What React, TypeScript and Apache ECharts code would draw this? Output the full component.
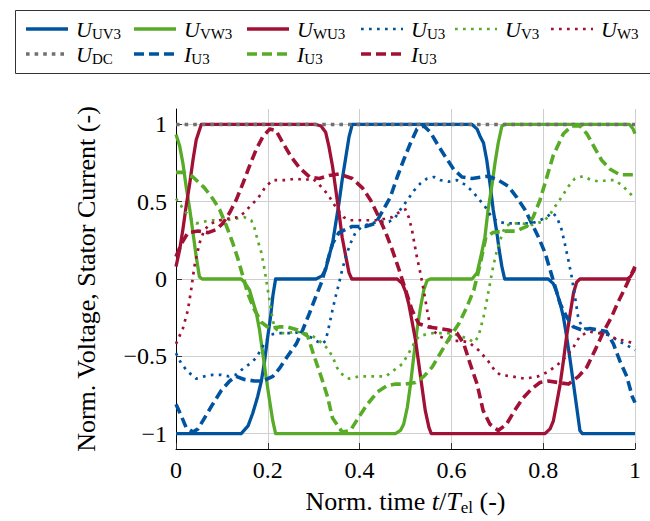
import React, { useEffect, useRef } from "react";
import * as echarts from "echarts";

type Pt = [number, number];

// ---- axis ticks ----
const xTickValues = [0, 0.2, 0.4, 0.6, 0.8, 1];
const yTickValues = [-1, -0.5, 0, 0.5, 1];

// ---- axis titles ----
const xTitle = "{r|Norm. time }{i|t}{r|/}{i|T}{s|el}{r| (-)}";
const yTitle = "Norm. Voltage, Stator Current (-)";

// ---- line voltages (solid) ----
const uUV3: Pt[] = [
  [0, -1], [0.142, -1], [0.157, -0.95], [0.167, -0.87], [0.178, -0.76], [0.186, -0.66],
  [0.193, -0.53], [0.2, -0.37], [0.206, -0.245], [0.211, -0.11], [0.217, 0],
  [0.305, 0], [0.318, 0.02], [0.326, 0.06], [0.333, 0.145], [0.341, 0.23], [0.348, 0.36],
  [0.355, 0.49], [0.362, 0.64], [0.37, 0.79], [0.377, 0.92], [0.384, 1],
  [0.645, 1], [0.656, 0.97], [0.663, 0.92], [0.67, 0.88], [0.677, 0.77], [0.684, 0.62],
  [0.691, 0.45], [0.699, 0.3], [0.704, 0.19], [0.71, 0.08], [0.716, 0],
  [0.811, 0], [0.822, -0.03], [0.829, -0.08], [0.837, -0.16], [0.844, -0.245], [0.851, -0.37],
  [0.859, -0.53], [0.866, -0.68], [0.873, -0.83], [0.88, -0.98], [0.885, -1], [1, -1],
];
const uVW3: Pt[] = [
  [0, 0.935], [0.008, 0.86], [0.015, 0.75], [0.022, 0.6], [0.03, 0.45], [0.037, 0.3],
  [0.044, 0.145], [0.051, 0.015], [0.057, 0],
  [0.142, 0], [0.149, -0.02], [0.16, -0.07], [0.167, -0.14], [0.175, -0.22], [0.182, -0.33],
  [0.189, -0.48], [0.196, -0.63], [0.204, -0.79], [0.211, -0.92], [0.217, -1],
  [0.478, -1], [0.489, -0.98], [0.496, -0.94], [0.504, -0.83], [0.511, -0.68], [0.518, -0.5],
  [0.525, -0.33], [0.533, -0.18], [0.54, -0.07], [0.547, -0.01], [0.554, 0],
  [0.645, 0], [0.656, 0.04], [0.666, 0.17], [0.673, 0.27], [0.68, 0.45], [0.688, 0.6],
  [0.695, 0.75], [0.702, 0.88], [0.71, 0.99], [0.716, 1],
  [0.988, 1], [0.996, 0.97], [1, 0.94],
];
const uWU3: Pt[] = [
  [0, 0.08], [0.008, 0.19], [0.015, 0.32], [0.022, 0.47], [0.03, 0.62], [0.037, 0.77],
  [0.044, 0.9], [0.055, 1],
  [0.305, 1], [0.316, 0.99], [0.326, 0.95], [0.333, 0.86], [0.341, 0.73], [0.348, 0.58],
  [0.355, 0.43], [0.362, 0.27], [0.37, 0.145], [0.377, 0.04], [0.383, 0],
  [0.482, 0], [0.493, -0.03], [0.5, -0.08], [0.507, -0.16], [0.514, -0.27], [0.522, -0.4],
  [0.529, -0.55], [0.536, -0.7], [0.543, -0.85], [0.551, -0.96], [0.556, -1],
  [0.804, -1], [0.815, -0.97], [0.822, -0.92], [0.829, -0.81], [0.837, -0.68], [0.844, -0.53],
  [0.851, -0.37], [0.859, -0.22], [0.866, -0.09], [0.873, -0.02], [0.88, 0],
  [0.983, 0], [0.99, 0.015], [0.997, 0.05], [1, 0.07],
];

// ---- phase voltages (dotted) ----
const uU3: Pt[] = [
  [0, -0.48], [0.012, -0.55], [0.026, -0.6], [0.044, -0.645], [0.062, -0.63], [0.08, -0.62],
  [0.098, -0.62], [0.115, -0.63], [0.13, -0.62], [0.146, -0.58], [0.16, -0.55], [0.175, -0.51],
  [0.186, -0.45], [0.197, -0.4], [0.207, -0.36], [0.222, -0.35], [0.24, -0.35], [0.258, -0.35],
  [0.272, -0.34], [0.29, -0.37], [0.305, -0.4], [0.318, -0.42], [0.326, -0.4], [0.333, -0.31],
  [0.341, -0.2], [0.348, -0.11], [0.355, -0.03], [0.362, 0.06], [0.37, 0.145], [0.38, 0.23],
  [0.391, 0.3], [0.406, 0.34], [0.424, 0.36], [0.442, 0.37], [0.464, 0.37], [0.478, 0.4],
  [0.489, 0.45], [0.504, 0.51], [0.518, 0.57], [0.533, 0.62], [0.547, 0.65], [0.562, 0.66],
  [0.576, 0.64], [0.594, 0.63], [0.612, 0.64], [0.63, 0.61], [0.645, 0.57], [0.659, 0.52],
  [0.673, 0.47], [0.688, 0.4], [0.702, 0.37], [0.72, 0.36], [0.738, 0.36], [0.757, 0.36],
  [0.775, 0.36], [0.793, 0.38], [0.807, 0.4], [0.82, 0.43], [0.83, 0.4], [0.84, 0.32],
  [0.847, 0.23], [0.855, 0.12], [0.862, 0.015], [0.869, -0.11], [0.876, -0.245], [0.884, -0.31],
  [0.898, -0.33], [0.913, -0.33], [0.93, -0.35], [0.949, -0.37], [0.962, -0.4], [0.977, -0.42],
  [0.995, -0.45], [1, -0.46],
];
const uV3: Pt[] = [
  [0, 0.52], [0.012, 0.47], [0.022, 0.43], [0.033, 0.39], [0.044, 0.36], [0.06, 0.37],
  [0.073, 0.38], [0.09, 0.38], [0.109, 0.38], [0.13, 0.39], [0.149, 0.4], [0.164, 0.38],
  [0.171, 0.33], [0.178, 0.25], [0.186, 0.17], [0.193, 0.06], [0.2, -0.07], [0.207, -0.2],
  [0.214, -0.31], [0.225, -0.35], [0.243, -0.35], [0.262, -0.34], [0.28, -0.35], [0.298, -0.37],
  [0.312, -0.4], [0.327, -0.44], [0.341, -0.5], [0.35, -0.57], [0.359, -0.61], [0.377, -0.645],
  [0.399, -0.63], [0.42, -0.63], [0.438, -0.63], [0.457, -0.63], [0.475, -0.59], [0.493, -0.55],
  [0.507, -0.48], [0.518, -0.42], [0.529, -0.37], [0.543, -0.36], [0.56, -0.35], [0.58, -0.35],
  [0.6, -0.35], [0.62, -0.37], [0.638, -0.39], [0.65, -0.41], [0.659, -0.37], [0.67, -0.245],
  [0.677, -0.14], [0.684, -0.03], [0.691, 0.08], [0.698, 0.17], [0.706, 0.25], [0.717, 0.34],
  [0.731, 0.36], [0.753, 0.36], [0.775, 0.35], [0.797, 0.37], [0.811, 0.4], [0.826, 0.47],
  [0.84, 0.53], [0.855, 0.6], [0.869, 0.65], [0.887, 0.665], [0.905, 0.64], [0.923, 0.63],
  [0.941, 0.64], [0.956, 0.64], [0.974, 0.6], [0.992, 0.545], [1, 0.52],
];
const uW3: Pt[] = [
  [0, -0.42], [0.015, -0.32], [0.026, -0.2], [0.033, -0.07], [0.04, 0.08], [0.051, 0.23],
  [0.062, 0.32], [0.077, 0.36], [0.095, 0.38], [0.113, 0.39], [0.135, 0.4], [0.149, 0.43],
  [0.164, 0.48], [0.178, 0.52], [0.196, 0.6], [0.211, 0.64], [0.225, 0.64], [0.243, 0.64],
  [0.26, 0.65], [0.28, 0.64], [0.298, 0.65], [0.312, 0.61], [0.33, 0.55], [0.341, 0.5],
  [0.351, 0.45], [0.365, 0.4], [0.38, 0.38], [0.399, 0.38], [0.417, 0.38], [0.435, 0.38],
  [0.455, 0.39], [0.471, 0.4], [0.49, 0.44], [0.5, 0.45], [0.507, 0.4], [0.514, 0.32],
  [0.52, 0.22], [0.525, 0.14], [0.533, 0.03], [0.54, -0.08], [0.547, -0.2], [0.554, -0.31],
  [0.572, -0.37], [0.6, -0.4], [0.62, -0.4], [0.638, -0.41], [0.659, -0.46], [0.68, -0.53],
  [0.694, -0.59], [0.706, -0.62], [0.732, -0.63], [0.76, -0.645], [0.789, -0.63], [0.811, -0.6],
  [0.833, -0.55], [0.851, -0.5], [0.866, -0.44], [0.88, -0.37], [0.9, -0.34], [0.92, -0.35],
  [0.94, -0.36], [0.96, -0.39], [0.98, -0.4], [1, -0.42],
];
const uDC: Pt[] = [[0, 1], [1, 1]];

// ---- phase currents (dashed) ----
const iU3: Pt[] = [
  [0, -0.81], [0.012, -0.89], [0.022, -0.96], [0.037, -0.99], [0.048, -0.97], [0.062, -0.9],
  [0.08, -0.81], [0.099, -0.72], [0.117, -0.66], [0.131, -0.63], [0.149, -0.65], [0.171, -0.66],
  [0.189, -0.66], [0.211, -0.63], [0.225, -0.58], [0.243, -0.5], [0.262, -0.42], [0.276, -0.33],
  [0.291, -0.22], [0.305, -0.11], [0.316, -0.03], [0.327, 0.08], [0.341, 0.23], [0.355, 0.3],
  [0.384, 0.34], [0.413, 0.34], [0.435, 0.36], [0.452, 0.45], [0.467, 0.53], [0.482, 0.66],
  [0.496, 0.77], [0.511, 0.88], [0.525, 0.97], [0.54, 0.99], [0.554, 0.95], [0.572, 0.86],
  [0.587, 0.79], [0.605, 0.71], [0.623, 0.66], [0.645, 0.65], [0.666, 0.66], [0.68, 0.665],
  [0.702, 0.64], [0.724, 0.6], [0.742, 0.53], [0.76, 0.45], [0.775, 0.36], [0.789, 0.275],
  [0.804, 0.17], [0.815, 0.06], [0.826, -0.05], [0.837, -0.16], [0.851, -0.245], [0.866, -0.31],
  [0.884, -0.33], [0.902, -0.32], [0.92, -0.33], [0.938, -0.34], [0.953, -0.42], [0.967, -0.53],
  [0.982, -0.63], [0.994, -0.76], [1, -0.8],
];
const iV3: Pt[] = [
  [0, 0.69], [0.015, 0.69], [0.037, 0.66], [0.062, 0.59], [0.08, 0.52], [0.095, 0.45],
  [0.109, 0.35], [0.124, 0.23], [0.135, 0.13], [0.146, 0.015], [0.156, -0.09], [0.171, -0.2],
  [0.186, -0.28], [0.204, -0.32], [0.225, -0.31], [0.243, -0.31], [0.265, -0.33], [0.287, -0.37],
  [0.301, -0.5], [0.316, -0.63], [0.33, -0.76], [0.341, -0.9], [0.362, -0.99], [0.38, -0.98],
  [0.399, -0.89], [0.417, -0.81], [0.439, -0.73], [0.46, -0.69], [0.478, -0.68], [0.5, -0.68],
  [0.522, -0.67], [0.54, -0.63], [0.558, -0.57], [0.58, -0.46], [0.598, -0.37], [0.616, -0.29],
  [0.634, -0.18], [0.649, -0.07], [0.663, 0.1], [0.675, 0.27], [0.69, 0.3], [0.713, 0.31],
  [0.74, 0.31], [0.764, 0.34], [0.778, 0.4], [0.793, 0.51], [0.808, 0.66], [0.822, 0.8],
  [0.844, 0.94], [0.862, 0.99], [0.88, 0.99], [0.895, 0.94], [0.91, 0.86], [0.927, 0.77],
  [0.946, 0.71], [0.967, 0.675], [1, 0.675],
];
const iW3: Pt[] = [
  [0, 0.145], [0.012, 0.23], [0.026, 0.3], [0.048, 0.31], [0.07, 0.3], [0.088, 0.32],
  [0.102, 0.36], [0.117, 0.43], [0.131, 0.51], [0.146, 0.62], [0.16, 0.73], [0.175, 0.84],
  [0.189, 0.92], [0.204, 0.97], [0.218, 0.96], [0.233, 0.88], [0.251, 0.79], [0.269, 0.72],
  [0.291, 0.66], [0.312, 0.65], [0.334, 0.67], [0.355, 0.68], [0.384, 0.65], [0.406, 0.59],
  [0.424, 0.51], [0.442, 0.4], [0.457, 0.3], [0.471, 0.19], [0.486, 0.06], [0.5, -0.07],
  [0.514, -0.2], [0.529, -0.29], [0.55, -0.31], [0.572, -0.32], [0.594, -0.33], [0.612, -0.35],
  [0.627, -0.42], [0.641, -0.55], [0.656, -0.68], [0.669, -0.85], [0.684, -0.94], [0.702, -0.98],
  [0.72, -0.94], [0.738, -0.85], [0.756, -0.77], [0.775, -0.71], [0.793, -0.67], [0.811, -0.66],
  [0.833, -0.67], [0.855, -0.68], [0.877, -0.63], [0.895, -0.57], [0.913, -0.46], [0.93, -0.35],
  [0.949, -0.245], [0.963, -0.15], [0.978, -0.06], [0.992, 0.03], [1, 0.08],
];

// ---- legend labels ----
const legendMain = ["U", "U", "U", "U", "U", "U", "U", "I", "I", "I"];
const legendSub = ["UV3", "VW3", "WU3", "U3", "V3", "W3", "DC", "U3", "U3", "U3"];

// ---- styles ----
const BLUE = "#00549F";
const GREEN = "#57AB27";
const RED = "#A11035";
const GREY = "#707070";
const FONT = "Liberation Serif";

type Kind = "solid" | "dotted" | "dc" | "dashed";
const STYLE: Record<Kind, { width: number; type: any }> = {
  solid: { width: 3.3, type: "solid" },
  dotted: { width: 2.7, type: [2.7, 5.3] },
  dc: { width: 3.6, type: [3.6, 5] },
  dashed: { width: 3.6, type: [10, 5] },
};

const seriesDefs: { data: Pt[]; color: string; kind: Kind }[] = [
  { data: uUV3, color: BLUE, kind: "solid" },
  { data: uVW3, color: GREEN, kind: "solid" },
  { data: uWU3, color: RED, kind: "solid" },
  { data: uU3, color: BLUE, kind: "dotted" },
  { data: uV3, color: GREEN, kind: "dotted" },
  { data: uW3, color: RED, kind: "dotted" },
  { data: uDC, color: GREY, kind: "dc" },
  { data: iU3, color: BLUE, kind: "dashed" },
  { data: iV3, color: GREEN, kind: "dashed" },
  { data: iW3, color: RED, kind: "dashed" },
];

// legend layout
const COL_X = [26, 134, 247, 361, 455, 551];
const ROW_Y = [29, 54];
const LINE_LEN = 42;
const TEXT_OFF = 50;

const richLegend = {
  i: { fontFamily: FONT, fontStyle: "italic", fontSize: 22, lineHeight: 25, color: "#000" },
  s: { fontFamily: FONT, fontSize: 15, lineHeight: 15, verticalAlign: "bottom", color: "#000" },
};

function buildGraphics() {
  const children: any[] = [
    {
      type: "rect",
      shape: { x: 15.5, y: 10.5, width: 660, height: 63 },
      style: { fill: "#fff", stroke: "#333", lineWidth: 1 },
    },
  ];
  seriesDefs.forEach((s, idx) => {
    const row = idx < 6 ? 0 : 1;
    const col = idx < 6 ? idx : idx - 6;
    const x0 = COL_X[col];
    const y = ROW_Y[row];
    const st = STYLE[s.kind];
    children.push({
      type: "line",
      shape: { x1: x0, y1: y, x2: x0 + LINE_LEN, y2: y },
      style: {
        stroke: s.color,
        lineWidth: st.width,
        lineDash: Array.isArray(st.type) ? st.type : null,
        lineCap: "butt",
      },
    });
    children.push({
      type: "text",
      x: x0 + TEXT_OFF,
      y: y,
      style: {
        text: `{i|${legendMain[idx]}}{s|${legendSub[idx]}}`,
        rich: richLegend,
        verticalAlign: "middle",
        align: "left",
        fontFamily: FONT,
      },
    });
  });
  // rotated y-axis title
  children.push({
    type: "text",
    x: 86,
    y: 279,
    rotation: Math.PI / 2,
    style: {
      text: yTitle,
      fontFamily: FONT,
      fontSize: 26,
      fill: "#000",
      align: "center",
      verticalAlign: "middle",
    },
  });
  return [{ type: "group", children, silent: true }];
}

const fmtY = (v: number) => (v < 0 ? "\u2212" + String(-v) : String(v));

export default function App() {
  const ref = useRef<HTMLDivElement>(null);
  useEffect(() => {
    if (!ref.current) return;
    const chart = echarts.init(ref.current, undefined, { renderer: "svg" });
    const option: any = {
      animation: false,
      backgroundColor: "#fff",
      textStyle: { fontFamily: FONT, color: "#000" },
      grid: { left: 176, top: 109, width: 459, height: 340, containLabel: false },
      xAxis: {
        type: "value",
        min: 0,
        max: 1,
        interval: 0.2,
        name: xTitle,
        nameLocation: "middle",
        nameGap: 37,
        nameTextStyle: {
          rich: {
            r: { fontFamily: FONT, fontSize: 26, lineHeight: 30, color: "#000" },
            i: { fontFamily: FONT, fontSize: 26, fontStyle: "italic", lineHeight: 30, color: "#000" },
            s: { fontFamily: FONT, fontSize: 17, lineHeight: 17, verticalAlign: "bottom", color: "#000" },
          },
        },
        axisLine: { show: true, onZero: false, lineStyle: { color: "#000", width: 1 } },
        axisTick: { show: true, inside: true, length: 6, lineStyle: { color: "#333", width: 1 } },
        axisLabel: {
          customValues: xTickValues,
          margin: 9,
          fontSize: 24,
          fontFamily: FONT,
          color: "#000",
          formatter: (v: number) => String(v),
        },
        splitLine: { show: true, lineStyle: { color: "#cfcfcf", width: 1 } },
      },
      yAxis: {
        type: "value",
        min: -1.1,
        max: 1.1,
        axisLine: { show: true, onZero: false, lineStyle: { color: "#000", width: 1 } },
        axisTick: {
          show: true,
          inside: true,
          length: 6,
          customValues: yTickValues,
          lineStyle: { color: "#333", width: 1 },
        },
        axisLabel: {
          customValues: yTickValues,
          margin: 9,
          fontSize: 24,
          fontFamily: FONT,
          color: "#000",
          formatter: fmtY,
        },
        splitLine: { show: true, lineStyle: { color: "#cfcfcf", width: 1 } },
      },
      graphic: buildGraphics(),
      series: seriesDefs.map((s) => ({
        type: "line",
        data: s.data,
        showSymbol: false,
        symbol: "none",
        silent: true,
        lineStyle: {
          color: s.color,
          width: STYLE[s.kind].width,
          type: STYLE[s.kind].type,
          cap: "butt",
          join: "round",
        },
      })),
    };
    chart.setOption(option);
    return () => chart.dispose();
  }, []);
  return (
    <div
      ref={ref}
      style={{ position: "absolute", left: 0, top: 0, width: 650, height: 521 }}
    />
  );
}
